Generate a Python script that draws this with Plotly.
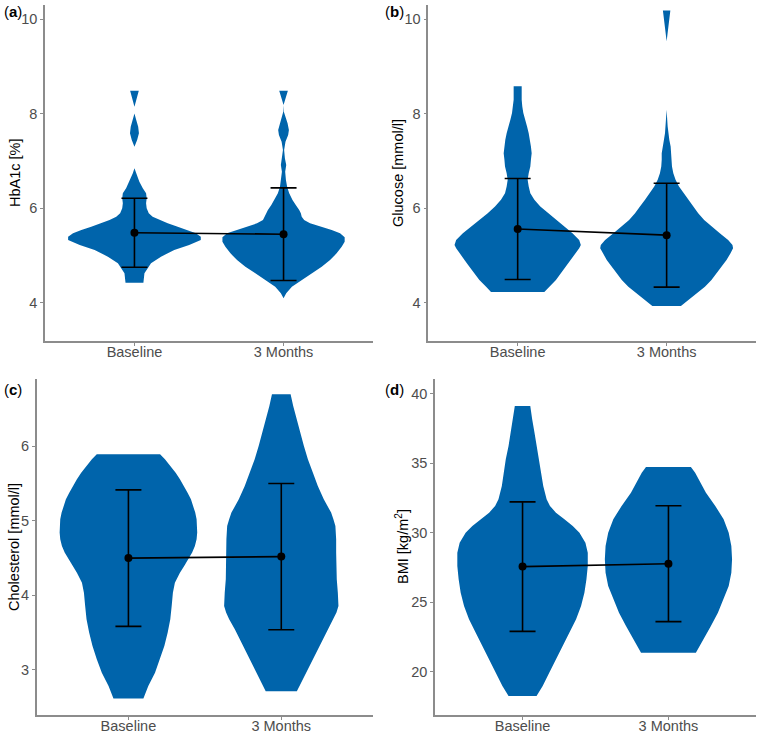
import plotly.graph_objects as go

# ---------------- data ----------------
groups = ["Baseline", "3 Months"]
group_pos = [1, 2]

panel_labels = ["a", "b", "c", "d"]
y_titles = ["HbA1c [%]", "Glucose [mmol/l]", "Cholesterol [mmol/l]", "BMI [kg/m<sup>2</sup>]"]
y_ticks = [[4, 6, 8, 10], [4, 6, 8, 10], [3, 4, 5, 6], [20, 25, 30, 35, 40]]
y_ranges = [[3.195, 10.303], [3.195, 10.303], [2.40, 6.898], [16.93, 41.03]]

# means and standard deviations (Baseline, 3 Months)
hba1c_mean = [5.48, 5.45]
hba1c_sd = [0.73, 0.98]
glucose_mean = [5.56, 5.43]
glucose_sd = [1.07, 1.10]
chol_mean = [4.50, 4.52]
chol_sd = [0.915, 0.98]
bmi_mean = [27.57, 27.78]
bmi_sd = [4.65, 4.165]

# violin outlines: value levels and half-widths (x units)
hba1c_base_y = [4.423, 4.621, 4.833, 4.974, 5.115, 5.221, 5.327, 5.397, 5.468, 5.538, 5.609, 5.680, 5.750,
                5.821, 5.891, 5.997, 6.103, 6.209, 6.315, 6.421, 6.562, 6.738, 6.844, 7.303, 7.444, 7.585,
                7.726, 7.867, 8.008, 8.150, 8.291, 8.397, 8.488]
hba1c_base_w = [0.060, 0.067, 0.111, 0.178, 0.267, 0.367, 0.445, 0.445, 0.412, 0.356, 0.290, 0.223, 0.167,
                0.122, 0.096, 0.082, 0.078, 0.082, 0.078, 0.056, 0.033, 0.011, 0.0, 0.0, 0.018, 0.030,
                0.025, 0.012, 0.0, 0.0, 0.011, 0.020, 0.029]
hba1c_3m_y = [4.092, 4.198, 4.339, 4.480, 4.621, 4.762, 4.903, 5.044, 5.186, 5.291, 5.383, 5.468, 5.538,
              5.609, 5.680, 5.750, 5.821, 5.891, 5.962, 6.068, 6.174, 6.315, 6.456, 6.597, 6.773, 6.915,
              7.056, 7.232, 7.409, 7.550, 7.656, 7.797, 7.938, 8.044, 8.185, 8.291, 8.397, 8.488]
hba1c_3m_w = [0.0, 0.018, 0.056, 0.122, 0.189, 0.256, 0.312, 0.356, 0.390, 0.410, 0.410, 0.379, 0.323,
              0.245, 0.178, 0.138, 0.122, 0.116, 0.105, 0.082, 0.060, 0.038, 0.024, 0.016, 0.011, 0.018,
              0.009, 0.004, 0.013, 0.031, 0.036, 0.027, 0.011, 0.002, 0.0, 0.011, 0.020, 0.029]

glucose_base_y = [4.226, 4.339, 4.481, 4.622, 4.763, 4.905, 5.046, 5.152, 5.223, 5.329, 5.470, 5.611, 5.753,
                  5.894, 6.035, 6.177, 6.318, 6.459, 6.601, 6.742, 6.883, 7.025, 7.166, 7.307, 7.449, 7.590,
                  7.731, 7.873, 8.014, 8.155, 8.297, 8.580]
glucose_base_w = [0.179, 0.212, 0.257, 0.290, 0.324, 0.357, 0.391, 0.413, 0.424, 0.413, 0.368, 0.313, 0.257,
                  0.201, 0.152, 0.112, 0.085, 0.074, 0.067, 0.074, 0.085, 0.089, 0.094, 0.089, 0.083, 0.074,
                  0.063, 0.049, 0.038, 0.031, 0.027, 0.027]
glucose_3m_y = [3.929, 4.057, 4.198, 4.339, 4.481, 4.622, 4.763, 4.905, 5.046, 5.152, 5.223, 5.329, 5.470,
                5.611, 5.753, 5.894, 6.035, 6.177, 6.318, 6.459, 6.601, 6.742, 6.883, 7.025, 7.166, 7.307,
                7.449, 7.590, 7.731, 7.873, 8.085, 9.534, 9.710, 9.922, 10.184]
glucose_3m_w = [0.096, 0.145, 0.201, 0.257, 0.301, 0.335, 0.368, 0.402, 0.429, 0.446, 0.442, 0.413, 0.357,
                0.301, 0.252, 0.212, 0.179, 0.145, 0.112, 0.083, 0.060, 0.045, 0.036, 0.033, 0.033, 0.027,
                0.018, 0.011, 0.007, 0.004, 0.0, 0.0, 0.007, 0.013, 0.025]

chol_base_y = [2.616, 2.785, 2.964, 3.143, 3.322, 3.501, 3.679, 3.858, 4.037, 4.171, 4.305, 4.395, 4.484,
               4.574, 4.663, 4.752, 4.842, 4.931, 5.021, 5.110, 5.199, 5.289, 5.378, 5.468, 5.557, 5.646,
               5.736, 5.825, 5.892]
chol_base_w = [0.098, 0.130, 0.174, 0.207, 0.235, 0.257, 0.274, 0.283, 0.291, 0.304, 0.337, 0.365, 0.391,
               0.417, 0.435, 0.446, 0.450, 0.450, 0.446, 0.437, 0.424, 0.409, 0.387, 0.363, 0.337, 0.309,
               0.276, 0.239, 0.207]
chol_3m_y = [2.714, 2.875, 3.054, 3.232, 3.411, 3.545, 3.679, 3.769, 3.858, 3.948, 4.037, 4.216, 4.395,
             4.574, 4.752, 4.931, 5.021, 5.110, 5.289, 5.468, 5.646, 5.825, 6.004, 6.183, 6.362, 6.540, 6.697]
chol_3m_w = [0.102, 0.141, 0.185, 0.228, 0.272, 0.304, 0.341, 0.361, 0.374, 0.374, 0.370, 0.363, 0.359,
             0.359, 0.359, 0.354, 0.341, 0.326, 0.278, 0.239, 0.207, 0.174, 0.148, 0.124, 0.100, 0.078, 0.061]

bmi_base_y = [18.275, 18.994, 19.952, 20.910, 21.868, 22.826, 23.784, 24.743, 25.701, 26.659, 27.617, 28.575,
              29.293, 30.012, 30.491, 30.970, 31.449, 31.928, 32.407, 33.365, 34.323, 35.281, 36.240, 37.198,
              38.156, 39.114]
bmi_base_w = [0.096, 0.138, 0.183, 0.229, 0.275, 0.321, 0.367, 0.401, 0.424, 0.438, 0.447, 0.447,
              0.431, 0.390, 0.344, 0.287, 0.229, 0.188, 0.165, 0.142, 0.128, 0.115, 0.096, 0.082,
              0.066, 0.053]
bmi_3m_y = [21.389, 22.347, 23.305, 24.263, 25.222, 26.180, 27.138, 28.096, 29.054, 30.012, 30.970, 31.928,
            32.886, 33.605, 34.323, 34.731]
bmi_3m_w = [0.188, 0.241, 0.291, 0.339, 0.378, 0.413, 0.431, 0.436, 0.431, 0.413, 0.378, 0.321,
            0.257, 0.218, 0.183, 0.154]

violins = [
    [(hba1c_base_y, hba1c_base_w), (hba1c_3m_y, hba1c_3m_w)],
    [(glucose_base_y, glucose_base_w), (glucose_3m_y, glucose_3m_w)],
    [(chol_base_y, chol_base_w), (chol_3m_y, chol_3m_w)],
    [(bmi_base_y, bmi_base_w), (bmi_3m_y, bmi_3m_w)],
]
means = [hba1c_mean, glucose_mean, chol_mean, bmi_mean]
sds = [hba1c_sd, glucose_sd, chol_sd, bmi_sd]

# ---------------- layout geometry (pixels) ----------------
W, H = 760, 732
# x0, x1, ytop, ybottom for each panel's plotting area
panel_px = [
    (45.0, 373.0, 5.0, 340.7),
    (428.3, 756.0, 5.0, 340.7),
    (36.7, 373.0, 379.3, 714.7),
    (435.0, 756.0, 379.3, 714.7),
]
title_px = [(15, 173), (398, 173), (14, 547), (402, 547)]
label_px = [(1.5, 11.5), (383, 11.5), (1.5, 389), (383, 389)]

VIOLIN = "#0064AB"
AXIS_C = "#8c8c8c"
TICK_FONT = dict(family="Liberation Sans, Arial, sans-serif", size=14.5, color="#4D4D4D")
TITLE_FONT = dict(family="Liberation Sans, Arial, sans-serif", size=14.5, color="#000000")
LABEL_FONT = dict(family="Liberation Sans, Arial, sans-serif", size=15, color="#000000")

fig = go.Figure()
annotations = []

for i in range(4):
    sfx = "" if i == 0 else str(i + 1)
    xa, ya = "x" + sfx, "y" + sfx
    # violins
    for gpos, (vy, vw) in zip(group_pos, violins[i]):
        xs = [gpos + w for w in vw] + [gpos - w for w in reversed(vw)]
        ys = list(vy) + list(reversed(vy))
        xs.append(xs[0])
        ys.append(ys[0])
        fig.add_trace(go.Scatter(
            x=xs, y=ys, mode="lines", fill="toself", fillcolor=VIOLIN,
            line=dict(color=VIOLIN, width=0), xaxis=xa, yaxis=ya,
            hoverinfo="skip", showlegend=False))
    # means with SD error bars
    fig.add_trace(go.Scatter(
        x=group_pos, y=means[i], mode="lines+markers",
        line=dict(color="black", width=1.6),
        marker=dict(color="black", size=8),
        error_y=dict(type="data", array=sds[i], visible=True, color="black", thickness=1.6, width=13),
        xaxis=xa, yaxis=ya, showlegend=False))

    x0, x1, yt, yb = panel_px[i]
    common = dict(showgrid=False, zeroline=False, showline=True, linecolor=AXIS_C, linewidth=1.6,
                  ticks="outside", ticklen=3, tickcolor=AXIS_C, tickwidth=1, automargin=False,
                  tickfont=TICK_FONT)
    fig.layout["xaxis" + sfx] = dict(
        domain=[x0 / W, x1 / W], range=[0.4, 2.6], tickvals=group_pos, ticktext=groups,
        anchor=ya, ticklabelstandoff=-6, **common)
    fig.layout["yaxis" + sfx] = dict(
        domain=[1 - yb / H, 1 - yt / H], range=y_ranges[i], tickvals=y_ticks[i],
        anchor=xa, **common)

    tx, ty = title_px[i]
    annotations.append(dict(text=y_titles[i], x=tx / W, y=1 - ty / H, xref="paper", yref="paper",
                            textangle=-90, showarrow=False, font=TITLE_FONT,
                            xanchor="center", yanchor="middle"))
    lx, ly = label_px[i]
    annotations.append(dict(text="(<b>" + panel_labels[i] + "</b>)", x=lx / W, y=1 - ly / H,
                            xref="paper", yref="paper", showarrow=False, font=LABEL_FONT,
                            xanchor="left", yanchor="middle"))

fig.update_layout(
    width=W, height=H, margin=dict(l=0, r=0, t=0, b=0, pad=0),
    paper_bgcolor="white", plot_bgcolor="white", template="none",
    showlegend=False, annotations=annotations,
)

fig.write_html("out.html", config={"displayModeBar": False},
               post_script="document.body.style.margin='0';")
